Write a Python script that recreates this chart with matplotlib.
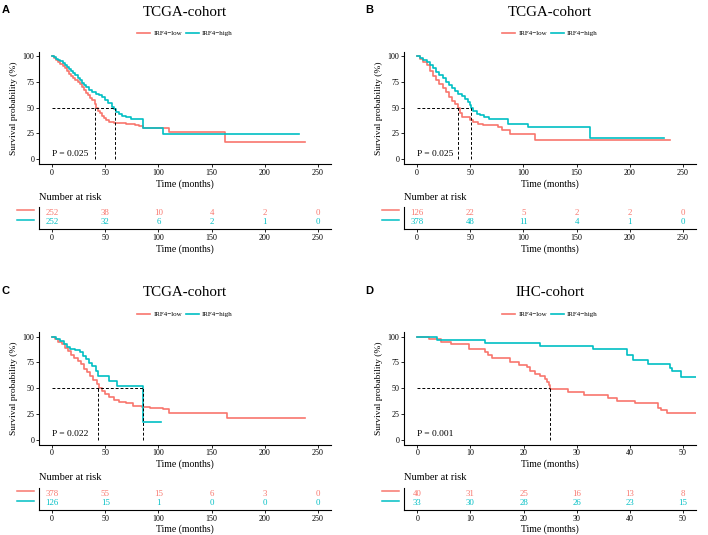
import matplotlib
matplotlib.use('Agg')
import matplotlib.pyplot as plt
from matplotlib.lines import Line2D

RED = '#F8766D'
TEAL = '#00BFC4'
W, H = 708, 535

plt.rcParams['font.family'] = ['Liberation Serif', 'DejaVu Serif']

# ---------- data ----------
titles = ['TCGA-cohort', 'TCGA-cohort', 'TCGA-cohort', 'IHC-cohort']
letters = ['A', 'B', 'C', 'D']
pvals = ['P = 0.025', 'P = 0.025', 'P = 0.022', 'P = 0.001']
labels = ['IRF4\u2212low', 'IRF4\u2212high']

# panel A
low_a_t = [0, 2, 4, 6, 8, 10, 12, 14, 16, 18, 20, 22, 24, 26, 28, 30, 32, 34, 36, 38, 40, 41,
           43, 45, 47, 49, 51, 54, 58, 70, 78, 82, 86, 110, 163, 238]
low_a_s = [100, 98, 96, 94, 92, 90, 88, 86, 83, 81, 79, 77, 75, 73, 70, 67, 64, 62, 59, 57, 53, 50,
           47, 45, 42, 40, 37.5, 36, 35, 34.5, 33, 32, 30, 26, 17, 17]
high_a_t = [0, 2, 4, 6, 8, 10, 12, 14, 16, 18, 20, 22, 24, 26, 28, 30, 32, 35, 38, 41, 44, 47, 50,
            53, 56, 58, 60, 63, 66, 70, 74, 86, 104, 232]
high_a_s = [100, 99, 97, 96, 95, 93, 91, 89, 87, 86, 84, 82, 79, 77, 74, 72, 70, 67, 65, 63, 62, 60, 57,
            54, 51, 49, 46, 44, 42, 41, 38.5, 30, 24, 24]

# panel B
low_b_t = [0, 3, 6, 9, 12, 15, 18, 21, 24, 27, 30, 33, 36, 39, 40, 42, 46, 50, 53, 57, 62, 76, 80,
           87.5, 111, 238]
low_b_s = [100, 97, 94, 91, 86, 81, 77, 73, 69, 65, 60, 56, 53, 50, 45, 41, 40.5, 38, 36, 34, 33, 31, 28,
           24, 18, 18]
high_b_t = [0, 3, 6, 9, 12, 15, 18, 21, 24, 27, 30, 33, 36, 39, 42, 45, 48, 50, 51, 53, 56, 59, 63,
            68, 86, 104.7, 163, 232]
high_b_s = [100, 98, 96, 94.5, 91, 88, 85, 82, 79, 75, 72, 69, 66, 63, 61, 58, 55, 52.5, 50, 47, 44, 42.5, 41,
            39, 34.5, 31, 20.5, 20.5]

# panel C
low_c_t = [0, 3, 6, 9, 12, 15, 18, 21, 24, 27, 30, 33, 36, 39, 42, 44, 47, 50, 54, 58, 63, 70, 76,
           85, 92, 104, 110, 164, 238]
low_c_s = [100, 98, 95, 93, 89, 86, 82, 79, 76, 73, 69, 66, 62, 58, 54, 50, 47, 44, 41, 38, 36, 35, 33,
           32, 31, 29.5, 26, 20.5, 20.5]
high_c_t = [0, 4, 8, 11, 14, 17, 22, 26, 29, 32, 35, 38, 41, 43, 54, 61, 85.8, 102]
high_c_s = [100, 98, 96, 93, 90, 88, 87, 85, 81, 78, 74, 71, 67, 62, 57, 52, 17.5, 17.5]

# panel D
low_d_t = [0, 2.2, 4.4, 6.3, 9.7, 12.8, 13.4, 14.1, 17.5, 19.1, 20.6, 21.3, 22.2, 23.1, 24.1, 24.4,
           24.7, 25.0, 28.4, 31.3, 35.9, 37.5, 40.9, 45.3, 45.9, 46.9, 52.4]
low_d_s = [100, 97.5, 95, 92.5, 87.5, 85, 82.5, 79.5, 75, 72, 70, 67, 64, 61.5, 58.5, 55.5,
           52.5, 49.5, 46, 43, 40.5, 37.5, 35, 31, 28.5, 26, 26]
high_d_t = [0, 3.75, 12.8, 23.1, 33.1, 39.4, 40.6, 43.4, 47.5, 47.9, 49.7, 52.5]
high_d_s = [100, 97, 94, 91, 87.5, 82.5, 77, 73, 69.5, 66.5, 60.5, 60.5]

# medians (months) for dashed guide lines
medians = [[40.7, 59], [39, 50.6], [43.5, 85.8], [25]]

# number at risk
risk_ticks = [[0, 50, 100, 150, 200, 250]] * 3 + [[0, 10, 20, 30, 40, 50]]
risk_low = [[252, 38, 10, 4, 2, 0], [126, 22, 5, 2, 2, 0], [378, 55, 15, 6, 3, 0], [40, 31, 25, 16, 13, 8]]
risk_high = [[252, 32, 6, 2, 1, 0], [378, 48, 11, 4, 1, 0], [126, 15, 1, 0, 0, 0], [33, 30, 28, 26, 23, 15]]

curves = [((low_a_t, low_a_s), (high_a_t, high_a_s)),
          ((low_b_t, low_b_s), (high_b_t, high_b_s)),
          ((low_c_t, low_c_s), (high_c_t, high_c_s)),
          ((low_d_t, low_d_s), (high_d_t, high_d_s))]
xlims = [(-12.2, 262.2)] * 3 + [(-2.5, 52.45)]


def box(l, t, r, b):
    return [l / W, 1 - b / H, (r - l) / W, (b - t) / H]


def fy(y):
    return 1 - y / H


fig = plt.figure(figsize=(W / 100, H / 100), dpi=100)

for i in range(4):
    dx = 0 if i % 2 == 0 else 365
    dy = 0 if i < 2 else 280.5
    L, R = 39 + dx, 331 + dx

    # main KM plot
    ax = fig.add_axes(box(L, 52 + dy, R, 164 + dy))
    (lt, ls), (ht, hs) = curves[i]
    ax.step(lt, ls, where='post', color=RED, lw=1.2)
    ax.step(ht, hs, where='post', color=TEAL, lw=1.2)
    meds = medians[i]
    ax.plot([0, max(meds)], [50, 50], color='black', lw=0.7, ls=(0, (3, 2)))
    for m in meds:
        ax.plot([m, m], [0, 50], color='black', lw=0.7, ls=(0, (3, 2)))
    ax.text(0, 5, pvals[i], fontsize=6.8, ha='left', va='center')
    ax.set_xlim(*xlims[i])
    ax.set_ylim(-4.85, 104)
    ax.set_xticks(risk_ticks[i])
    ax.set_yticks([0, 25, 50, 75, 100])
    for s in ['top', 'right']:
        ax.spines[s].set_visible(False)
    for s in ['left', 'bottom']:
        ax.spines[s].set_linewidth(0.8)
    ax.tick_params(labelsize=5.8, length=2, width=0.6, pad=1.5)
    ax.set_xlabel('Time (months)', fontsize=7, labelpad=1.5)
    ax.set_ylabel('Survival probability (%)', fontsize=6.8, labelpad=3)

    # title, legend, panel letter
    cx = (L + R) / 2 / W
    fig.text(cx, fy(12 + dy), titles[i], fontsize=10.8, ha='center', va='center')
    handles = [Line2D([], [], color=RED, lw=1.2), Line2D([], [], color=TEAL, lw=1.2)]
    fig.legend(handles, labels, loc='center', bbox_to_anchor=(cx, fy(33.5 + dy)), ncol=2,
               frameon=False, fontsize=5, handlelength=1.8, handletextpad=0.5, columnspacing=0.6)
    fig.text((6 + dx * 363 / 365) / W, fy(10 + dy), letters[i], fontsize=8, fontweight='bold',
             family='Liberation Sans', ha='center', va='center')

    # risk table
    rx = fig.add_axes(box(L, 207 + dy, R, 229.3 + dy))
    for x, a, b in zip(risk_ticks[i], risk_low[i], risk_high[i]):
        rx.text(x, 1, str(a), color=RED, fontsize=6.3, ha='center', va='center')
        rx.text(x, 0, str(b), color=TEAL, fontsize=6.3, ha='center', va='center')
    rx.set_xlim(*xlims[i])
    rx.set_ylim(-0.75, 1.65)
    rx.set_xticks(risk_ticks[i])
    rx.set_yticks([])
    for s in ['top', 'right']:
        rx.spines[s].set_visible(False)
    for s in ['left', 'bottom']:
        rx.spines[s].set_linewidth(0.8)
    rx.tick_params(labelsize=5.8, length=2, width=0.6, pad=1.5)
    rx.set_xlabel('Time (months)', fontsize=7, labelpad=1.5)
    fig.text(L / W, fy(197.3 + dy), 'Number at risk', fontsize=7.5, ha='left', va='center')
    fig.add_artist(Line2D([(L - 22) / W, (L - 5) / W], [fy(210 + dy)] * 2, color=RED, lw=1.1))
    fig.add_artist(Line2D([(L - 22) / W, (L - 5) / W], [fy(220 + dy)] * 2, color=TEAL, lw=1.1))

fig.savefig('out.png', dpi=100)
